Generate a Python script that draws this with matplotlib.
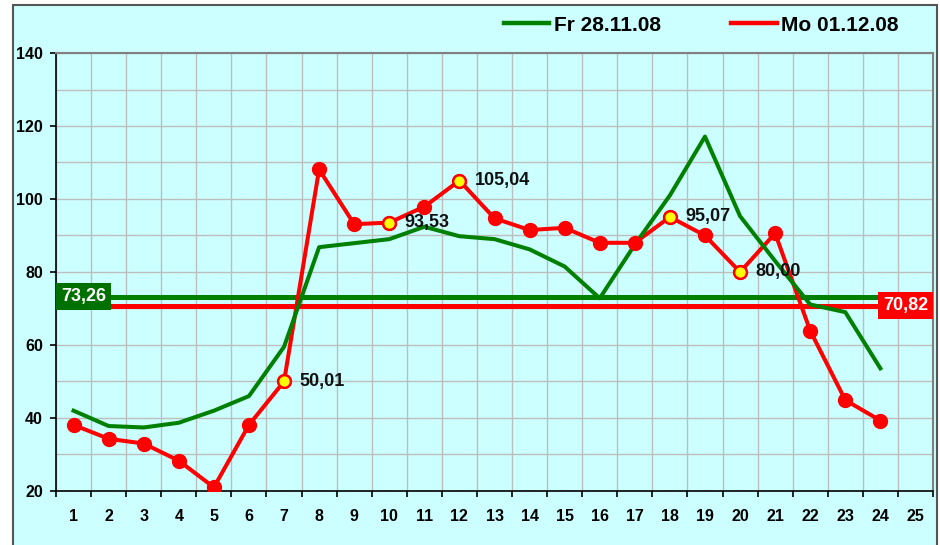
import numpy as np
import matplotlib.pyplot as plt
from matplotlib.patches import Rectangle
from matplotlib.lines import Line2D
from matplotlib.ticker import MultipleLocator, FixedLocator

plt.rcParams['font.family'] = ['Liberation Sans', 'DejaVu Sans']

# Stunden und Werte
hours = list(range(1, 25))
hour_labels = [str(h) for h in range(1, 26)]
fr_values = [42.0, 37.8, 37.4, 38.7, 42.0, 46.0, 59.5, 86.8, 87.9, 89.0, 92.4, 89.8,
             89.0, 86.2, 81.5, 72.8, 87.5, 101.0, 117.1, 95.3, 83.0, 71.1, 69.0, 53.6]
mo_values = [38.1, 34.3, 33.0, 28.3, 21.0, 38.1, 50.01, 108.1, 93.1, 93.53, 97.9, 105.04,
             94.7, 91.5, 92.1, 88.0, 88.0, 95.07, 90.0, 80.0, 90.6, 63.9, 44.9, 39.3]
fr_avg = 73.26
mo_avg = 70.82
fr_avg_label = '73,26'
mo_avg_label = '70,82'
marked_hours = [7, 10, 12, 18, 20]
marked_labels = ['50,01', '93,53', '105,04', '95,07', '80,00']
series_names = ['Fr 28.11.08', 'Mo 01.12.08']

bg = '#ccffff'
green = '#008000'
red = '#ff0000'

fig = plt.figure(figsize=(9.4, 5.45), dpi=100)
fig.patch.set_facecolor('white')
# Rahmen um das ganze Diagramm
fig.patches.append(Rectangle((13/940, -0.02), (937-13)/940, 1 - 5/545 + 0.02,
                             transform=fig.transFigure, facecolor=bg,
                             edgecolor='#555555', lw=1.5, zorder=-10))

ax = fig.add_axes([0.0596, 0.0991, 0.93295, 0.80365])
ax.set_facecolor(bg)

# Mittelwertlinien
ax.axhline(fr_avg, color=green, lw=3.6, zorder=2)
ax.axhline(mo_avg, color=red, lw=3.6, zorder=2)

ax.plot(hours, mo_values, color=red, lw=2.9, zorder=3)
ax.plot(hours, fr_values, color=green, lw=2.9, zorder=4)
ax.plot(hours, mo_values, 'o', color=red, ms=10, zorder=5)

mk_vals = [mo_values[h-1] for h in marked_hours]
ax.plot(marked_hours, mk_vals, 'o', mfc='#ffff00', mec=red, mew=1.6, ms=9, zorder=6)
for h, v, lab in zip(marked_hours, mk_vals, marked_labels):
    ax.annotate(lab, xy=(h, v), xytext=(11, 0), textcoords='offset points',
                ha='left', va='center', fontsize=13, weight='bold', color='#111111', zorder=7)

ax.annotate(fr_avg_label, xy=(0.5, fr_avg), xytext=(3.5, 0), textcoords='offset points',
            ha='left', va='center', fontsize=13, weight='bold', color='white', zorder=8,
            bbox=dict(boxstyle='square,pad=0.28', fc='#007000', ec='none'))
ax.annotate(mo_avg_label, xy=(25.5, mo_avg), xytext=(-3.5, 0), textcoords='offset points',
            ha='right', va='center', fontsize=13, weight='bold', color='white', zorder=8,
            bbox=dict(boxstyle='square,pad=0.28', fc=red, ec='none'))

ax.set_xlim(0.5, 25.5)
ax.set_ylim(20, 140)

ax.xaxis.set_major_locator(FixedLocator(range(1, 26)))
ax.set_xticklabels(hour_labels)
ax.xaxis.set_minor_locator(FixedLocator(np.arange(0.5, 26, 1)))
ax.yaxis.set_major_locator(MultipleLocator(20))
ax.yaxis.set_minor_locator(MultipleLocator(10))

ax.tick_params(axis='x', which='major', length=0, pad=13, labelsize=11.5)
ax.tick_params(axis='x', which='minor', length=4.5, width=1.2, direction='out')
ax.tick_params(axis='y', which='major', length=4.5, width=1.2, direction='out', pad=5, labelsize=11.5)
ax.tick_params(axis='y', which='minor', length=0)
for lab in ax.get_xticklabels() + ax.get_yticklabels():
    lab.set_fontweight('bold')

ax.xaxis.grid(True, which='minor', color='#bdbdbd', lw=1)
ax.yaxis.grid(True, which='both', color='#bdbdbd', lw=1)
ax.set_axisbelow(True)

for s in ['left', 'bottom']:
    ax.spines[s].set_color('black')
    ax.spines[s].set_linewidth(1.2)
for s in ['top', 'right']:
    ax.spines[s].set_color('#808080')
    ax.spines[s].set_linewidth(1.5)

handles = [Line2D([], [], color=green, lw=3.2), Line2D([], [], color=red, lw=3.2)]
fig.legend(handles, series_names, loc='center', bbox_to_anchor=(0.746, 0.954), ncol=2,
           frameon=False, prop={'size': 15, 'weight': 'bold'}, handlelength=2.2,
           handletextpad=0.2, columnspacing=3.4)

plt.savefig('out.png', dpi=100)
